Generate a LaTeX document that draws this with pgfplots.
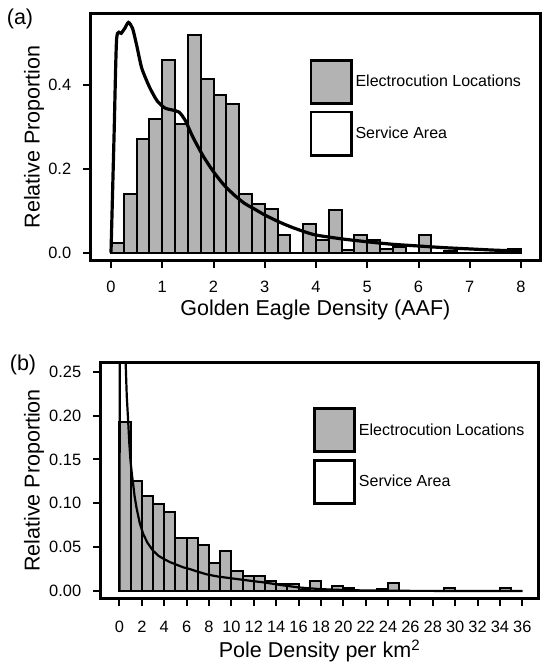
\documentclass[border=0pt]{standalone}
\usepackage{fontspec}
\setmainfont{Liberation Sans}
\usepackage{pgfplots}
\pgfplotsset{compat=1.18}
\definecolor{bargray}{HTML}{B3B3B3}

% R base-graphics look: thick box, outside ticks, Arial-like text
\pgfplotsset{
  rstyle/.style={
    scale only axis,
    axis line style={line width=3pt},
    tick align=outside,
    xtick pos=left, ytick pos=left,
    major tick length=7.5pt,
    every tick/.style={black, line width=2pt},
    tick label style={font=\fontsize{16.4}{19}\selectfont},
    xticklabel style={yshift=-10.5pt},
    yticklabel style={xshift=-8.5pt},
    label style={font=\fontsize{21.5}{25}\selectfont},
    /pgf/number format/assume math mode=true,
    legend cell align=left,
    legend style={draw=none, fill=none, inner sep=0pt,
      font=\fontsize{16}{19}\selectfont,
      nodes={inner sep=2pt}, /tikz/row sep=5.8pt, /tikz/column sep=1pt},
  },
  boxgray/.style={legend image code/.code={
    \draw[line width=2.8pt, draw=black, fill=bargray] (0pt,-21.6pt) rectangle (40.2pt,21.6pt);}},
  boxwhite/.style={legend image code/.code={
    \draw[line width=2.8pt, draw=black, fill=white] (0pt,-21.6pt) rectangle (40.2pt,21.6pt);}},
}

\begin{document}
\begin{tikzpicture}
\path[use as bounding box] (0,0) rectangle (546pt,-668pt);

\node[font=\fontsize{21.5}{25}\selectfont] at (20pt,-19pt) {(a)};
\node[font=\fontsize{21.5}{25}\selectfont] at (23pt,-365pt) {(b)};

% panel (a)
\begin{axis}[
    rstyle,
    at={(90.7pt,-260pt)}, anchor=south west,
    width=449.3pt, height=246pt,
    xmin=-0.396, xmax=8.37,
    ymin=-0.0174, ymax=0.569,
    xtick={0,1,...,8},
    ytick={0,0.2,0.4},
    yticklabel style={/pgf/number format/.cd, fixed, fixed zerofill, precision=1},
    xlabel={Golden Eagle Density (AAF)},
    ylabel={Relative Proportion},
    xlabel style={at={(axis description cs:0.5,-0.2264)}, anchor=base},
    ylabel style={at={(axis description cs:-0.126,0.5)}, anchor=center},
    legend style={at={(axis description cs:0.4866,0.819)}, anchor=north west},
]
\addplot[ybar interval, fill=bargray, draw=black, line width=2pt, boxgray]
  coordinates {
  (0,0.022) (0.25,0.141) (0.5,0.270) (0.75,0.318) (1,0.460) (1.25,0.306)
  (1.5,0.519) (1.75,0.413) (2,0.377) (2.25,0.354) (2.5,0.140) (2.75,0.115)
  (3,0.103) (3.25,0.043) (3.5,0) (3.75,0.068) (4,0.031) (4.25,0.102)
  (4.5,0.006) (4.75,0.043) (5,0.031) (5.25,0.008) (5.5,0.014) (5.75,0)
  (6,0.043) (6.25,0) (6.5,0.005) (6.75,0) (7,0) (7.25,0) (7.5,0)
  (7.75,0.008) (8,0.008)
  };
\addlegendentry{Electrocution Locations}
\addplot[black, line width=3.2pt, smooth, tension=0.4, boxwhite]
  coordinates {
  (0,0) (0.06,0.28) (0.11,0.51) (0.2,0.523) (0.27,0.535) (0.34,0.549)
  (0.42,0.535) (0.5,0.495) (0.6,0.44) (0.75,0.395) (0.9,0.362) (1.05,0.345)
  (1.2,0.34) (1.33,0.335) (1.45,0.315) (1.6,0.275) (1.8,0.23) (2.0,0.193)
  (2.2,0.162) (2.4,0.138) (2.6,0.118) (2.8,0.104) (3.0,0.09) (3.25,0.075)
  (3.5,0.062) (3.75,0.051) (4.0,0.042) (4.5,0.033) (5.0,0.026) (5.5,0.02)
  (6.0,0.016) (6.5,0.012) (7.0,0.009) (7.5,0.006) (8.0,0.004)
  };
\addlegendentry{Service Area}
\end{axis}

% panel (b)
\begin{axis}[
    rstyle,
    at={(100.7pt,-598.3pt)}, anchor=south west,
    width=437.6pt, height=235.6pt,
    xmin=-1.68, xmax=37.43,
    ymin=-0.0083, ymax=0.2603,
    xtick={0,2,...,36},
    ytick={0,0.05,...,0.25},
    xticklabel style={yshift=-1pt},
    yticklabel style={/pgf/number format/.cd, fixed, fixed zerofill, precision=2},
    xlabel={Pole Density per km\textsuperscript{2}},
    ylabel={Relative Proportion},
    xlabel style={at={(axis description cs:0.5,-0.252)}, anchor=base},
    ylabel style={at={(axis description cs:-0.152,0.5)}, anchor=center},
    legend style={at={(axis description cs:0.4846,0.8124)}, anchor=north west},
]
\addplot[ybar interval, fill=bargray, draw=black, line width=2pt, boxgray]
  coordinates {
  (0,0.193) (1,0.126) (2,0.108) (3,0.099) (4,0.0905) (5,0.060) (6,0.060)
  (7,0.0527) (8,0.032) (9,0.046) (10,0.0229) (11,0.0172) (12,0.0172)
  (13,0.0115) (14,0.0084) (15,0.0084) (16,0.001) (17,0.0115) (18,0.001)
  (19,0.0057) (20,0.003) (21,0) (22,0) (23,0.002) (24,0.0088) (25,0)
  (26,0) (27,0) (28,0) (29,0.003) (30,0) (31,0) (32,0) (33,0) (34,0.003)
  (35,0) (36,0)
  };
\addlegendentry{Electrocution Locations}
\addplot[black, line width=2.2pt, boxwhite]
  coordinates {
  (0,0) (0.03,0.35) (0.2,0.45) (0.4,0.33) (0.55,0.26) (0.65,0.222)
  (0.77,0.195) (0.88,0.168) (0.98,0.149) (1.1,0.134) (1.22,0.122)
  (1.35,0.108) (1.52,0.095) (1.8,0.078) (2.12,0.065) (2.5,0.055)
  (3.0,0.046) (3.5,0.040) (4.05,0.036) (4.5,0.033) (5.1,0.030) (5.7,0.027)
  (6.3,0.025) (7.0,0.022) (7.8,0.019) (8.8,0.0165) (10,0.0145) (11.5,0.012)
  (13.1,0.0095) (14.6,0.0065) (16.1,0.004) (17.6,0.0025) (19.1,0.0015)
  (22,0.0006) (26,0.0002) (30,0.0001) (36,0)
  };
\addlegendentry{Service Area}
\end{axis}
\end{tikzpicture}
\end{document}
